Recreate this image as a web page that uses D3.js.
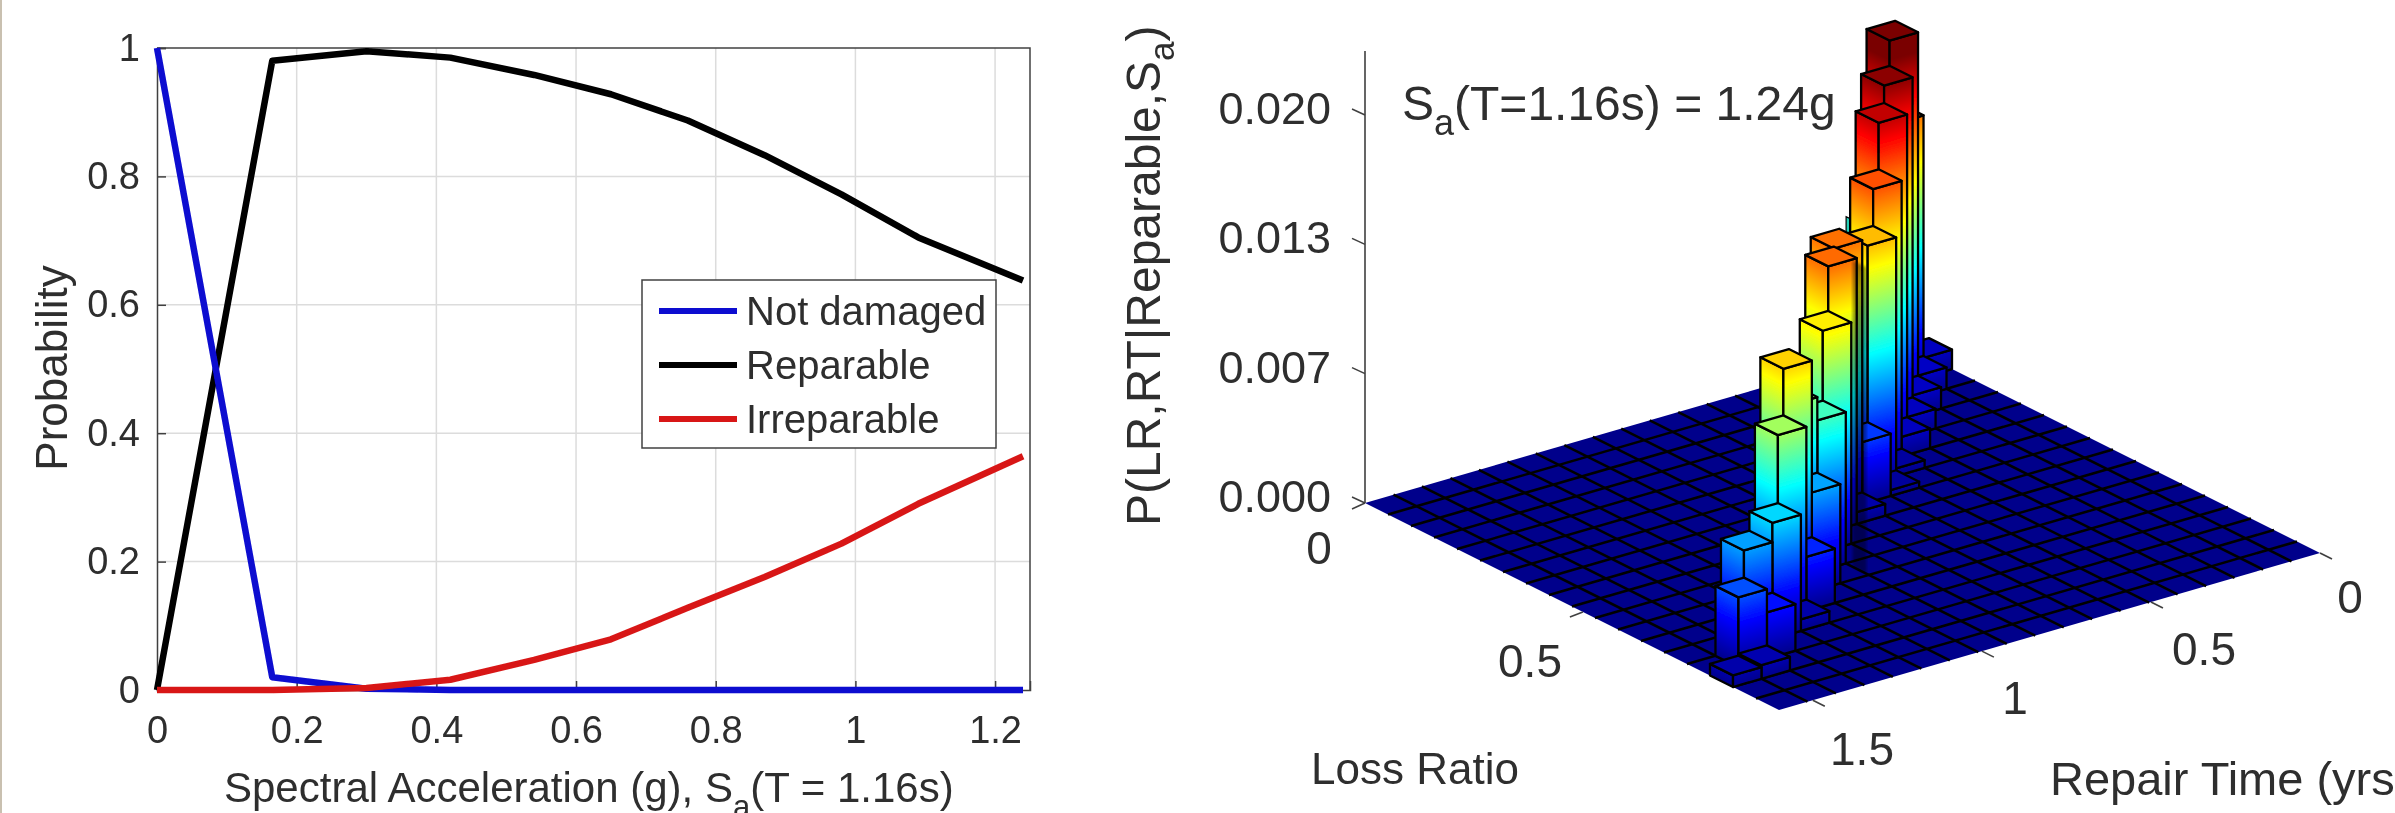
<!DOCTYPE html>
<html>
<head>
<meta charset="utf-8">
<script src="https://cdn.jsdelivr.net/npm/d3@7"></script>
<style>
  html, body { margin: 0; padding: 0; background: #fff; overflow: hidden; }
  svg { display: block; font-family: "Liberation Sans", Arial, sans-serif; }
  text { fill: #2e2e2e; }
</style>
</head>
<body>
<svg id="chart" width="2395" height="813"></svg>
<script>
// Fragility curves (left panel)
const saValues = [0, 0.165, 0.3, 0.42, 0.54, 0.65, 0.76, 0.87, 0.98, 1.09, 1.24];
const notDamaged = [1, 0.02, 0.002, 0, 0, 0, 0, 0, 0, 0, 0];
const reparable = [0, 0.98, 0.995, 0.985, 0.958, 0.928, 0.887, 0.833, 0.772, 0.705, 0.638];
const irreparable = [0, 0, 0.003, 0.016, 0.047, 0.079, 0.128, 0.176, 0.228, 0.29, 0.364];
const seriesNames = ['Not damaged', 'Reparable', 'Irreparable'];
const xTickValues = [0, 0.2, 0.4, 0.6, 0.8, 1, 1.2];
const yTickValues = [0, 0.2, 0.4, 0.6, 0.8, 1];

// Joint histogram (right panel): non-zero bins only, the rest of the floor is zero
const barLossBin = [1, 2, 3, 4, 5, 6, 7, 8, 7, 8, 9, 10, 11, 12, 13, 10, 11, 12, 13, 14, 15, 13, 14, 15, 1, 2, 3, 4, 5, 6, 7];
const barRepairBin = [1, 2, 3, 4, 5, 6, 7, 8, 8, 9, 10, 11, 12, 13, 14, 12, 13, 14, 15, 16, 17, 16, 17, 18, 0, 1, 2, 3, 4, 5, 6];
const barProb = [0.0135, 0.0188, 0.0175, 0.0166, 0.0142, 0.0123, 0.0032, 0.0006,
  0.0136, 0.0137, 0.0114, 0.0078, 0.0051, 0.0028, 0.0006,
  0.0090, 0.0119, 0.0095, 0.0060, 0.0024, 0.0007,
  0.0050, 0.0036, 0.0006,
  0.0010, 0.0011, 0.0011, 0.0010, 0.0010, 0.0004, 0.0003];
const lossBins = 18;
const repairBins = 19;
const lossTicks = [0, 0.5];
const repairTicks = [0, 0.5, 1, 1.5];
const probTicks = [0, 0.00667, 0.01333, 0.02];

const svg = d3.select('#chart');
const ink = '#404040';

svg.append('rect').attr('width', 2395).attr('height', 813).attr('fill', '#fff');
svg.append('rect').attr('width', 2).attr('height', 813).attr('fill', '#c9c0b0');

const soft = svg.append('defs').append('filter').attr('id', 'soft');
soft.append('feGaussianBlur').attr('stdDeviation', 0.65);
const streakBlur = svg.select('defs').append('filter').attr('id', 'streak-blur');
streakBlur.append('feGaussianBlur').attr('stdDeviation', 1.8);

const root = svg.append('g').attr('filter', 'url(#soft)');

// ---- left panel ----
const x = d3.scaleLinear().domain([0, 1.25]).range([157, 1030]);
const y = d3.scaleLinear().domain([0, 1]).range([690, 48]);
const left = root.append('g');

left.append('g').selectAll('line').data(xTickValues.slice(1)).join('line')
  .attr('x1', d => x(d)).attr('x2', d => x(d)).attr('y1', y(0)).attr('y2', y(1))
  .attr('stroke', '#dcdcdc').attr('stroke-width', 1.5);
left.append('g').selectAll('line').data(yTickValues.slice(1, -1)).join('line')
  .attr('x1', x(0)).attr('x2', x(1.25)).attr('y1', d => y(d)).attr('y2', d => y(d))
  .attr('stroke', '#dcdcdc').attr('stroke-width', 1.5);

const xAxis = left.append('g').attr('transform', `translate(0,${y(0)})`)
  .call(d3.axisBottom(x).tickValues(xTickValues).tickFormat(d3.format('~g')).tickSize(-9).tickPadding(26));
const yAxis = left.append('g').attr('transform', `translate(${x(0)},0)`)
  .call(d3.axisLeft(y).tickValues(yTickValues).tickFormat(d3.format('~g')).tickSize(-9).tickPadding(17));
[xAxis, yAxis].forEach(a => {
  a.selectAll('text').attr('font-size', 38).attr('font-family', 'Liberation Sans').style('fill', '#2e2e2e');
  a.selectAll('line, path').attr('stroke', ink).attr('stroke-width', 1.5);
});
left.append('path').attr('fill', 'none').attr('stroke', ink).attr('stroke-width', 1.5)
  .attr('d', `M${x(0)},${y(1)}H${x(1.25)}V${y(0)}`);

const line = d3.line().x((d, i) => x(saValues[i])).y(d => y(d));
const curves = [
  { values: reparable, color: '#000000' },
  { values: notDamaged, color: '#0a0ad0' },
  { values: irreparable, color: '#d81818' },
];
left.append('g').selectAll('path').data(curves).join('path')
  .attr('d', d => line(d.values)).attr('fill', 'none')
  .attr('stroke', d => d.color).attr('stroke-width', 6.5).attr('stroke-linejoin', 'round');

const legend = left.append('g');
legend.append('rect').attr('x', 642).attr('y', 280).attr('width', 354).attr('height', 168)
  .attr('fill', '#fff').attr('stroke', ink).attr('stroke-width', 1.5);
const legendColors = ['#0a0ad0', '#000000', '#d81818'];
seriesNames.forEach((name, i) => {
  const ly = 311 + i * 54;
  legend.append('line').attr('x1', 659).attr('x2', 737).attr('y1', ly).attr('y2', ly)
    .attr('stroke', legendColors[i]).attr('stroke-width', 6);
  legend.append('text').attr('x', 746).attr('y', ly + 14).attr('font-size', 40).text(name);
});

left.append('text').attr('transform', 'translate(67,368) rotate(-90)')
  .attr('text-anchor', 'middle').attr('font-size', 44).text('Probability');

const xLabel = left.append('text').attr('x', 224).attr('y', 802).attr('font-size', 42);
xLabel.append('tspan').text('Spectral Acceleration (g), S');
xLabel.append('tspan').attr('font-size', 31).attr('dy', 15).text('a');
xLabel.append('tspan').attr('dy', -15).text('(T = 1.16s)');

// ---- right panel: oblique projection of the histogram ----
const lossPxX = d3.scaleLinear().domain([0, lossBins]).range([0, 414]);
const lossPxY = d3.scaleLinear().domain([0, lossBins]).range([0, 207]);
const repairPxX = d3.scaleLinear().domain([0, repairBins]).range([0, -541]);
const repairPxY = d3.scaleLinear().domain([0, repairBins]).range([0, 157]);
const probPx = d3.scaleLinear().domain([0, 0.02]).range([0, 388]);
const lossToBin = d3.scaleLinear().domain([0, 0.95]).range([0, lossBins]);
const repairToBin = d3.scaleLinear().domain([0, 1.6]).range([0, repairBins]);
const jet = d3.scaleLinear().domain([0, 0.125, 0.375, 0.625, 0.875, 1])
  .range(['#00008b', '#0000ff', '#00ffff', '#ffff00', '#ff0000', '#7a0000']).clamp(true);
const colorMax = 0.0178; // colour limit sits below the tallest bar, which saturates

function project(i, j, p = 0) {
  return [1906 + lossPxX(i) + repairPxX(j), 346 + lossPxY(i) + repairPxY(j) - probPx(p)];
}
const poly = pts => pts.map(p => p.join(',')).join(' ');

const right = root.append('g');
const defs = svg.select('defs');

// floor
right.append('polygon')
  .attr('points', poly([project(0, 0), project(lossBins, 0), project(lossBins, repairBins), project(0, repairBins)]))
  .attr('fill', '#00008b');
const gridLines = right.append('g').attr('stroke', '#000000').attr('stroke-width', 2.5);
d3.range(1, lossBins).forEach(i => {
  const a = project(i, 0), b = project(i, repairBins);
  gridLines.append('line').attr('x1', a[0]).attr('y1', a[1]).attr('x2', b[0]).attr('y2', b[1]);
});
d3.range(1, repairBins).forEach(j => {
  const a = project(0, j), b = project(lossBins, j);
  gridLines.append('line').attr('x1', a[0]).attr('y1', a[1]).attr('x2', b[0]).attr('y2', b[1]);
});

// z axis
const axisG = right.append('g').attr('stroke', ink).attr('stroke-width', 1.6);
const base = project(0, repairBins);
axisG.append('line').attr('x1', base[0]).attr('x2', base[0]).attr('y1', base[1]).attr('y2', base[1] - probPx(0.0233));
probTicks.forEach(p => {
  const yy = base[1] - probPx(p);
  axisG.append('line').attr('x1', base[0] - 13).attr('y1', yy - 6).attr('x2', base[0]).attr('y2', yy);
  right.append('text').attr('x', 1331).attr('y', yy - 7 + 16).attr('text-anchor', 'end')
    .attr('font-size', 45).text(p.toFixed(3));
});
axisG.append('line').attr('x1', base[0] - 13).attr('y1', base[1] + 6).attr('x2', base[0]).attr('y2', base[1]);

// floor axis ticks
const lossLabelPos = [[1319, 564], [1530, 677]];
lossTicks.forEach((t, k) => {
  const p = project(lossToBin(t), repairBins);
  if (t > 0) axisG.append('line').attr('x1', p[0]).attr('y1', p[1]).attr('x2', p[0] - 13).attr('y2', p[1] + 5);
  right.append('text').attr('x', lossLabelPos[k][0]).attr('y', lossLabelPos[k][1]).attr('text-anchor', 'middle')
    .attr('font-size', 46).text(d3.format('~g')(t));
});
const repairLabelPos = [[2350, 613], [2204, 665], [2015, 714], [1862, 765]];
repairTicks.forEach((t, k) => {
  const p = project(lossBins, repairToBin(t));
  axisG.append('line').attr('x1', p[0]).attr('y1', p[1]).attr('x2', p[0] + 12).attr('y2', p[1] + 6);
  right.append('text').attr('x', repairLabelPos[k][0]).attr('y', repairLabelPos[k][1]).attr('text-anchor', 'middle')
    .attr('font-size', 46).text(d3.format('~g')(t));
});

// thin stray face peeking out behind the tall ridge in the reference
const strayTop = 0.0144;
right.append('polygon')
  .attr('points', poly([project(7.3, 8), project(7.5, 8), project(7.5, 8, strayTop), project(7.3, 8, strayTop)]))
  .attr('fill', '#28d0b8').attr('stroke', '#000').attr('stroke-width', 1.2);

// bars, painted back to front
const bars = barProb.map((p, k) => ({ i: barLossBin[k], j: barRepairBin[k], p, k }))
  .sort((a, b) => (a.i + a.j) - (b.i + b.j));

function faceGradient(id, p0, p1, p) {
  const ex = p1[0] - p0[0], ey = p1[1] - p0[1];
  const len = Math.hypot(ex, ey);
  const nx = -ey / len, ny = ex / len;
  const along = -probPx(p) * ny;
  const tMax = p / colorMax;
  const stops = jet.domain().filter(t => t < tMax);
  if (tMax < 1) stops.push(tMax);
  const g = defs.append('linearGradient').attr('id', id).attr('gradientUnits', 'userSpaceOnUse')
    .attr('x1', p0[0]).attr('y1', p0[1])
    .attr('x2', p0[0] + nx * along).attr('y2', p0[1] + ny * along);
  g.selectAll('stop').data(stops).join('stop')
    .attr('offset', t => t / tMax).attr('stop-color', t => jet(t));
}

const barG = right.append('g').attr('stroke', '#000').attr('stroke-width', 2.3).attr('stroke-linejoin', 'round');
bars.forEach(b => {
  const { i, j, p, k } = b;
  const lf = project(i, j + 1), fr = project(i + 1, j + 1), rt = project(i + 1, j);
  const lfT = project(i, j + 1, p), frT = project(i + 1, j + 1, p), rtT = project(i + 1, j, p), bkT = project(i, j, p);
  faceGradient(`bl${k}`, lf, fr, p);
  faceGradient(`br${k}`, fr, rt, p);
  barG.append('polygon').attr('points', poly([lf, fr, frT, lfT])).attr('fill', `url(#bl${k})`);
  barG.append('polygon').attr('points', poly([fr, rt, rtT, frT])).attr('fill', `url(#br${k})`);
  barG.append('polygon').attr('points', poly([lfT, frT, rtT, bkT])).attr('fill', jet(p / colorMax));
});

// muted rendering streak between the ridges in the reference
right.append('polygon')
  .attr('points', poly([project(11.3, 11), project(11.9, 11), project(11.9, 11, 0.0158), project(11.3, 11, 0.0158)]))
  .attr('fill', '#000').attr('opacity', 0.4).attr('filter', 'url(#streak-blur)');

right.append('text').attr('transform', 'translate(1160,526) rotate(-90)').attr('font-size', 48)
  .call(t => {
    t.append('tspan').text('P(LR,RT|Reparable,S');
    t.append('tspan').attr('font-size', 35).attr('dy', 14).text('a');
    t.append('tspan').attr('dy', -14).text(')');
  });

const note = right.append('text').attr('x', 1402).attr('y', 120).attr('font-size', 48);
note.append('tspan').text('S');
note.append('tspan').attr('font-size', 36).attr('dy', 15).text('a');
note.append('tspan').attr('dy', -15).text('(T=1.16s) = 1.24g');

right.append('text').attr('x', 1311).attr('y', 784).attr('font-size', 44).text('Loss Ratio');
right.append('text').attr('x', 2050).attr('y', 795).attr('font-size', 47).text('Repair Time (yrs)');
</script>
</body>
</html>
